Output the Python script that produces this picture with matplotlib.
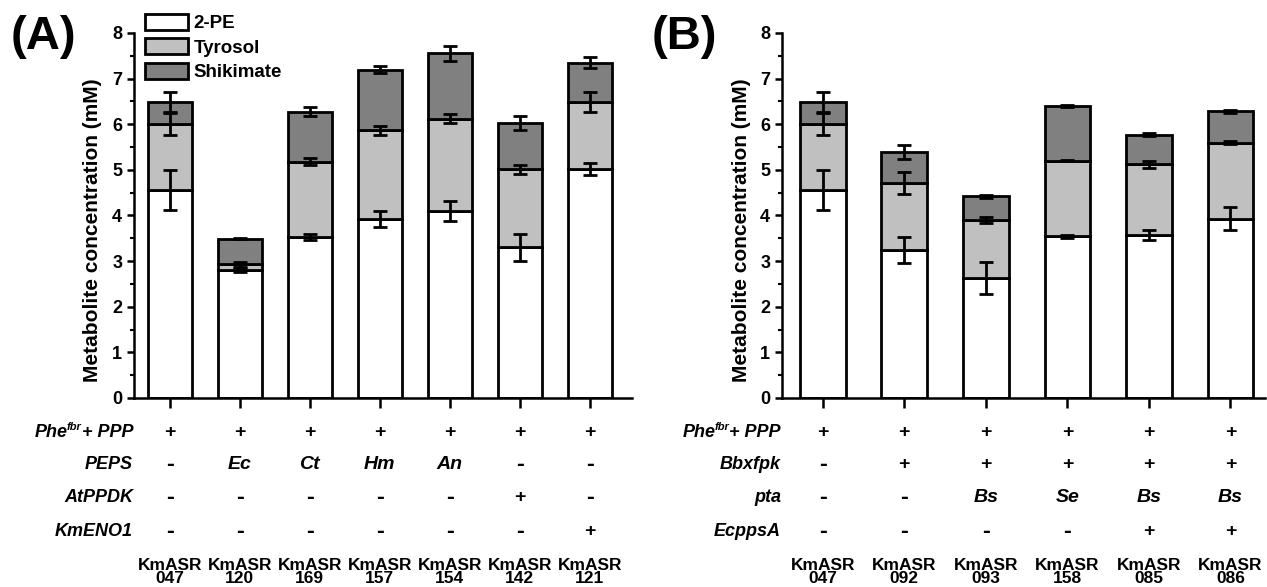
import matplotlib
matplotlib.use("Agg")
import matplotlib.pyplot as plt
import matplotlib.transforms as mtransforms
from matplotlib.patches import Patch
from matplotlib.ticker import MultipleLocator

plt.rcParams['font.family'] = ['Liberation Sans', 'DejaVu Sans']
plt.rcParams['font.weight'] = 'bold'
plt.rcParams['axes.labelweight'] = 'bold'

# panel A data (segment heights, mM) and errors
strains_a = ["047", "120", "169", "157", "154", "142", "121"]
pe_a = [4.55, 2.80, 3.53, 3.92, 4.10, 3.30, 5.02]
tyr_a = [1.45, 0.13, 1.65, 1.95, 2.02, 1.71, 1.47]
shik_a = [0.48, 0.56, 1.09, 1.32, 1.43, 1.02, 0.86]
pe_err_a = [0.44, 0.05, 0.06, 0.17, 0.22, 0.30, 0.13]
tyr_err_a = [0.24, 0.05, 0.08, 0.10, 0.10, 0.10, 0.22]
shik_err_a = [0.22, 0.01, 0.10, 0.08, 0.16, 0.15, 0.12]
rows_a = ["PEPS", "AtPPDK", "KmENO1"]
table_a = [
    ["+", "+", "+", "+", "+", "+", "+"],
    ["-", "Ec", "Ct", "Hm", "An", "-", "-"],
    ["-", "-", "-", "-", "-", "+", "-"],
    ["-", "-", "-", "-", "-", "-", "+"],
]

# panel B data
strains_b = ["047", "092", "093", "158", "085", "086"]
pe_b = [4.55, 3.24, 2.62, 3.54, 3.57, 3.93]
tyr_b = [1.45, 1.47, 1.28, 1.66, 1.55, 1.66]
shik_b = [0.48, 0.68, 0.52, 1.19, 0.65, 0.69]
pe_err_b = [0.44, 0.28, 0.35, 0.03, 0.10, 0.26]
tyr_err_b = [0.24, 0.24, 0.06, 0.01, 0.07, 0.03]
shik_err_b = [0.22, 0.15, 0.03, 0.02, 0.03, 0.03]
rows_b = ["Bbxfpk", "pta", "EcppsA"]
table_b = [
    ["+", "+", "+", "+", "+", "+"],
    ["-", "+", "+", "+", "+", "+"],
    ["-", "-", "Bs", "Se", "Bs", "Bs"],
    ["-", "-", "-", "-", "+", "+"],
]

series = ["2-PE", "Tyrosol", "Shikimate"]
colors = ["white", "#c0c0c0", "#808080"]

fig = plt.figure(figsize=(12.67, 5.87), dpi=100)


def panel(rect, strains, segs, errs, rows, table, width, xlim, label_x, letter, letter_x):
    ax = fig.add_axes(rect)
    x = list(range(len(strains)))
    bottom = [0] * len(strains)
    for vals, err, c in zip(segs, errs, colors):
        ax.bar(x, vals, width, bottom=bottom, color=c, edgecolor="black", linewidth=2, zorder=2)
        bottom = [b + v for b, v in zip(bottom, vals)]
        ax.errorbar(x, bottom, yerr=err, fmt="none", ecolor="black", elinewidth=2,
                    capsize=5, capthick=2, zorder=3)
    ax.set_xlim(*xlim)
    ax.set_ylim(0, 8)
    ax.spines["top"].set_visible(False)
    ax.spines["right"].set_visible(False)
    ax.spines["left"].set_linewidth(1.8)
    ax.spines["bottom"].set_linewidth(1.8)
    ax.yaxis.set_major_locator(MultipleLocator(1))
    ax.yaxis.set_minor_locator(MultipleLocator(0.5))
    ax.tick_params(axis="y", which="major", length=5, width=1.8, labelsize=13)
    ax.tick_params(axis="y", which="minor", length=3, width=1.5)
    ax.set_xticks(x)
    ax.set_xticklabels([])
    ax.tick_params(axis="x", length=7, width=1.8)
    ax.set_ylabel("Metabolite concentration (mM)", fontsize=15)
    ax.yaxis.set_label_coords(-0.065, 0.46)

    trans = mtransforms.blended_transform_factory(ax.transData, fig.transFigure)
    row_y = [0.264, 0.209, 0.153, 0.094]
    # first row label: Phe with small superscript
    t = fig.text(label_x, row_y[0], "+ PPP", ha="right", va="center", fontsize=13,
                 style="italic")
    fig.canvas.draw()
    bb = t.get_window_extent().transformed(fig.transFigure.inverted())
    s = fig.text(bb.x0, row_y[0] + 0.008, "fbr", ha="right", va="center",
                 fontsize=8, style="italic")
    bb2 = s.get_window_extent().transformed(fig.transFigure.inverted())
    fig.text(bb2.x0 + 0.001, row_y[0], "Phe", ha="right", va="center", fontsize=13,
             style="italic")
    for r, name in enumerate(rows):
        fig.text(label_x, row_y[r + 1], name, ha="right", va="center", fontsize=13,
                 style="italic")
    for r, vals in enumerate(table):
        for i, v in enumerate(vals):
            if v == "-":
                ax.text(x[i], row_y[r], v, transform=trans, ha="center", va="center",
                        fontsize=17)
            else:
                ax.text(x[i], row_y[r], v, transform=trans, ha="center", va="center",
                        fontsize=14, style="normal" if v == "+" else "italic")
    for i, s in enumerate(strains):
        ax.text(x[i], 0.026, "KmASR\n" + s, transform=trans, ha="center", va="center",
                fontsize=12.5, linespacing=0.85)
    fig.text(letter_x, 0.937, letter, fontsize=34, va="center")
    return ax


ax_a = panel([0.1058, 0.322, 0.393, 0.622], strains_a, [pe_a, tyr_a, shik_a],
             [pe_err_a, tyr_err_a, shik_err_a], rows_a, table_a, 0.63, (-0.51, 6.6),
             0.105, "(A)", 0.008)
ax_b = panel([0.6172, 0.322, 0.381, 0.622], strains_b, [pe_b, tyr_b, shik_b],
             [pe_err_b, tyr_err_b, shik_err_b], rows_b, table_b, 0.56, (-0.5, 5.42),
             0.6164, "(B)", 0.514)

handles = [Patch(facecolor=c, edgecolor="black", linewidth=2) for c in colors]
fig.legend(handles, series, loc="upper left", bbox_to_anchor=(0.1144, 0.977),
           frameon=False, handlelength=2.3, handleheight=0.95, labelspacing=0.33,
           handletextpad=0.3, borderpad=0, borderaxespad=0,
           prop={"weight": "bold", "size": 13.5})

fig.savefig("out.png", dpi=100)
